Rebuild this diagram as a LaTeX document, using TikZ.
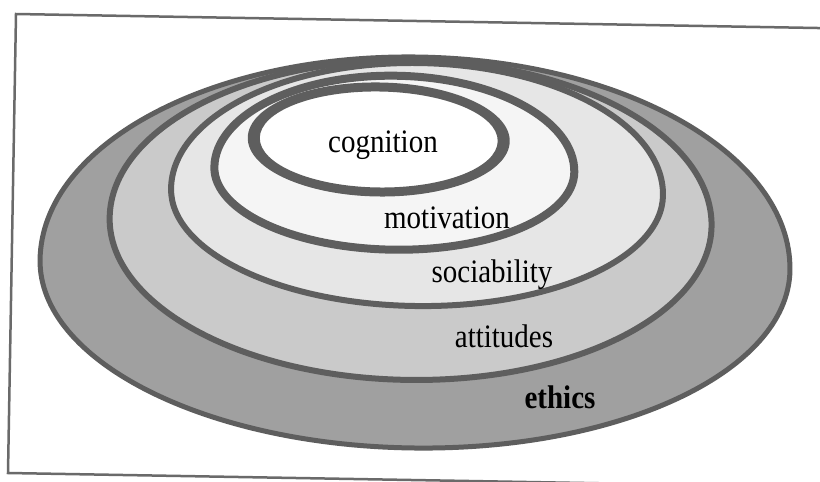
\documentclass[tikz,border=0pt]{standalone}
\usepackage{fontspec}
\usepackage{graphicx}
\setmainfont{Liberation Serif}
\definecolor{ringgrey}{HTML}{5E5E5E}
\definecolor{framegrey}{HTML}{6A6A6A}
\definecolor{ethicsfill}{HTML}{A0A0A0}
\definecolor{attitudefill}{HTML}{CACACA}
\definecolor{socialfill}{HTML}{E6E6E6}
\definecolor{motivefill}{HTML}{F5F5F5}
% closed dome outline: centre x, centre y, half width, upper height, lower height
\newcommand{\domepath}[5]{(#1-#3,#2) arc[start angle=180,end angle=360,x radius=#3,y radius=#4] arc[start angle=0,end angle=180,x radius=#3,y radius=#5] -- cycle}
% labels are set slightly taller than wide
\newcommand{\tall}[1]{\scalebox{1}[1.13]{#1}}
\begin{document}
\begin{tikzpicture}[x=1pt,y=-1pt,
  layer/.style={draw=ringgrey, line width=#1},
  lbl/.style={anchor=base, inner sep=0pt, font=\fontsize{29}{34}\selectfont},
]
\useasboundingbox (0,0) rectangle (820,482);
\clip (0,0) rectangle (820,482);
\fill[white] (0,0) rectangle (820,482);

% slightly tilted frame, right side running off the page
\draw[framegrey, line width=2.5pt, line join=miter]
  (846,28.5) -- (16,14) -- (8,473) -- (838,487.4);

\begin{scope}[rotate around={-0.8:(415,265)}]
  % ethics (outermost layer)
  \filldraw[fill=ethicsfill, layer=5pt] \domepath{415}{265}{375}{208}{183};
  % attitudes
  \filldraw[fill=attitudefill, layer=6pt] \domepath{410}{222}{301}{162}{158};
  % sociability
  \filldraw[fill=socialfill, layer=6pt] \domepath{416}{192}{246}{129}{114};
  % motivation
  \filldraw[fill=motivefill, layer=8pt] \domepath{393}{170}{180}{94}{80};
  % cognition: thick ring around a white core
  \fill[white] (377,140) ellipse[x radius=125, y radius=52];
  \fill[ringgrey, even odd rule]
    (377,140) ellipse[x radius=131, y radius=57]
    (377,140) ellipse[x radius=119, y radius=48];
\end{scope}

\node[lbl] (cognition)   at (383,152) {\tall{cognition}};
\node[lbl] (motivation)  at (447,228) {\tall{motivation}};
\node[lbl] (sociability) at (492,282) {\tall{sociability}};
\node[lbl] (attitudes)   at (504,347) {\tall{attitudes}};
\node[lbl, font=\fontsize{29}{34}\selectfont\bfseries] (ethics) at (560,408) {\tall{ethics}};
\end{tikzpicture}
\end{document}
